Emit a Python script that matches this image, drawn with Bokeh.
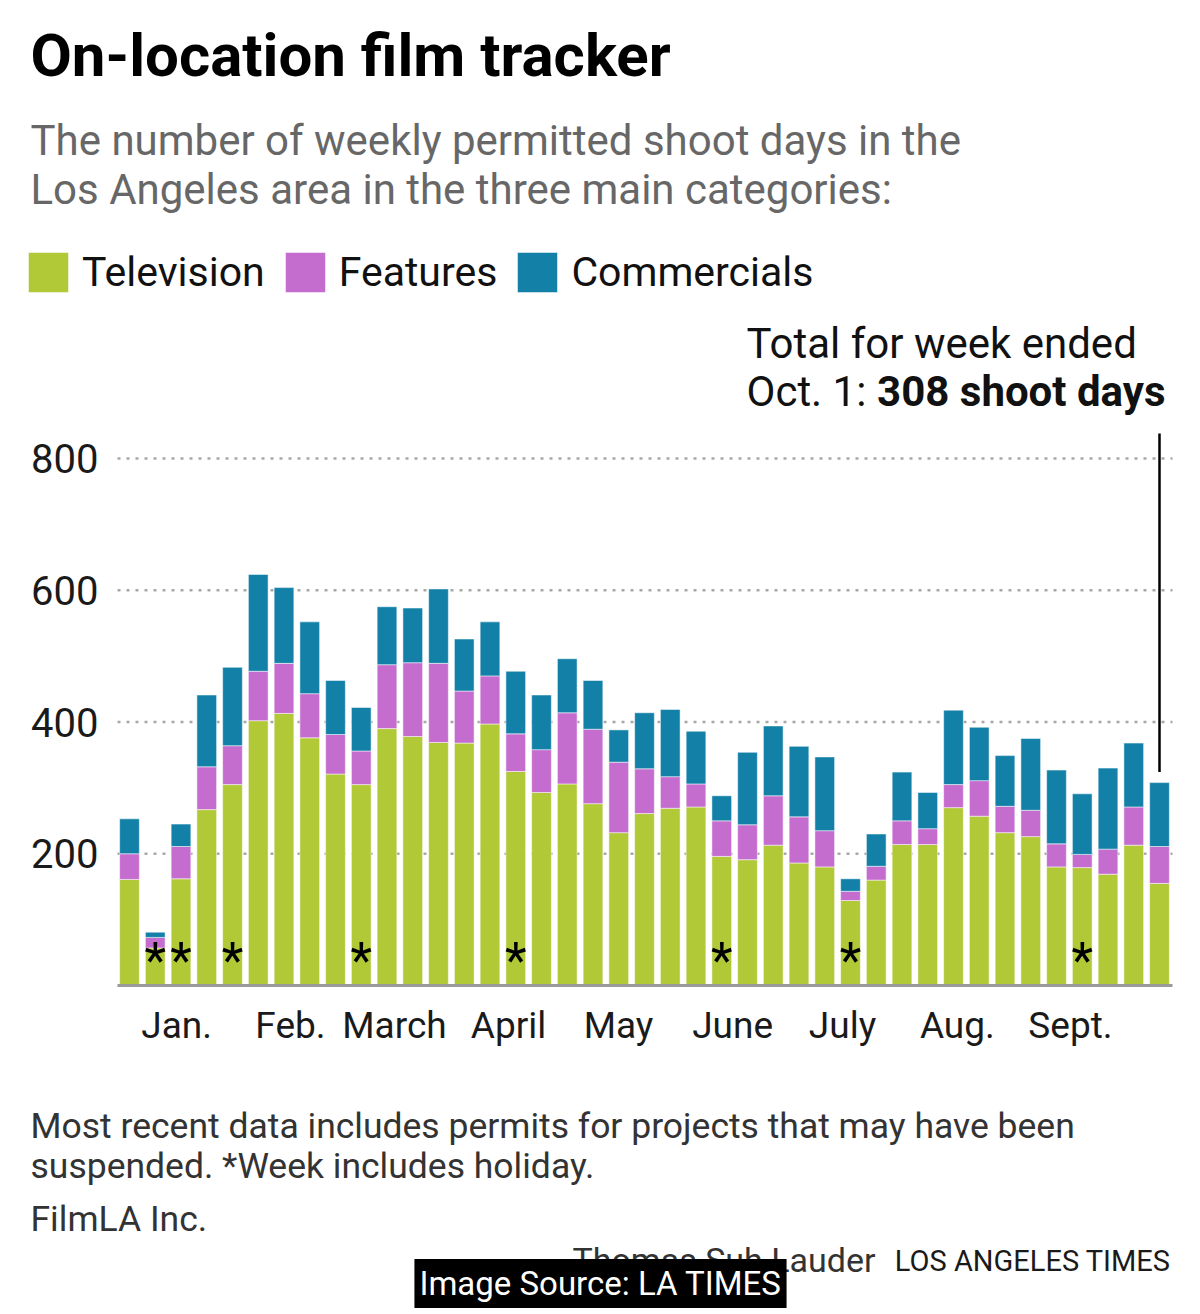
from bokeh.plotting import figure
from bokeh.models import ColumnDataSource, Label, Range1d
from bokeh.embed import file_html
from bokeh.resources import INLINE
from bokeh.core.properties import value

# ---------------- data ----------------
weeks = list(range(41))
television = [161, 57, 162, 267, 305, 402, 413, 376, 321, 305, 390, 378, 369, 368,
              397, 325, 293, 306, 276, 232, 261, 269, 271, 196, 191, 213, 186, 180,
              129, 160, 214, 214, 270, 257, 232, 226, 180, 179, 169, 213, 155]
features = [39, 16, 49, 65, 59, 75, 76, 67, 60, 51, 97, 112, 120, 79,
            73, 57, 65, 108, 113, 107, 68, 48, 35, 54, 53, 75, 70, 55,
            14, 21, 36, 24, 35, 54, 40, 40, 35, 20, 38, 58, 56]
commercials = [53, 8, 34, 109, 119, 147, 115, 109, 82, 66, 88, 83, 113, 79,
               82, 95, 83, 82, 74, 49, 85, 102, 80, 38, 110, 106, 107, 112,
               19, 49, 74, 55, 113, 81, 77, 109, 112, 92, 123, 97, 97]
holiday_weeks = [1, 2, 4, 9, 15, 23, 28, 37]
month_ticks = [1.83, 6.25, 10.29, 14.72, 18.99, 23.42, 27.69, 32.15, 36.54]
month_labels = ["Jan.", "Feb.", "March", "April", "May", "June", "July", "Aug.", "Sept."]
y_ticks = [200, 400, 600, 800]
y_tick_labels = ["200", "400", "600", "800"]
series = ["Television", "Features", "Commercials"]
colors = ["#b1c837", "#c56ccf", "#1380a8"]

totals = [t + f + c for t, f, c in zip(television, features, commercials)]
last_total = totals[-1]

# ---------------- layout helpers (canvas pixels -> data) ----------------
W, H = 1200, 1314
PX_PER_X = 25.75      # pixels per week
X0_PX = 129.0         # centre of first bar
PX_PER_Y = 0.65875    # pixels per shoot day
Y0_PX = 985.0         # baseline

def dx(px):
    return (px - X0_PX) / PX_PER_X

def dy(py):
    return (Y0_PX - py) / PX_PER_Y

FONT = "Roboto"

p = figure(width=W, height=H, output_backend="svg", toolbar_location=None,
           x_range=Range1d(dx(0), dx(W)), y_range=Range1d(dy(H), dy(0)),
           x_axis_location=None, y_axis_location=None,
           min_border=0)
p.outline_line_color = None
p.background_fill_color = "white"
p.border_fill_color = "white"
p.grid.visible = False

# dotted value grid and tick labels
grid_x0 = dx(117)
grid_x1 = dx(1172)
p.segment(x0=[grid_x0] * len(y_ticks), y0=y_ticks, x1=[grid_x1] * len(y_ticks), y1=y_ticks,
          line_color="#a8a8a8", line_width=2.5, line_dash="3 6")
p.text(x=[dx(98)] * len(y_ticks), y=y_ticks, text=y_tick_labels, text_align="right",
       text_baseline="middle", text_font=value(FONT), text_font_size="40px",
       text_color="#1a1a1a")

src = ColumnDataSource(dict(week=weeks, Television=television, Features=features,
                            Commercials=commercials))
p.vbar_stack(series, x="week", width=0.765, color=colors, source=src,
             line_color="white", line_width=1, line_alpha=0.5,
             legend_label=series)

# baseline
p.segment(x0=[grid_x0], y0=[0], x1=[grid_x1], y1=[0], line_color="#9a9a9a", line_width=3)

# month labels
p.text(x=month_ticks, y=[dy(1025)] * len(month_ticks), text=month_labels,
       text_align="center", text_baseline="middle", text_font=value(FONT),
       text_font_size="37px", text_color="#1a1a1a")

# holiday markers
p.text(x=holiday_weeks, y=[dy(960)] * len(holiday_weeks), text=["*"] * len(holiday_weeks),
       text_align="center", text_baseline="alphabetic", text_font=value(FONT),
       text_font_size="50px", text_color="black")

# pointer line for latest week
p.segment(x0=[weeks[-1]], y0=[last_total + 16], x1=[weeks[-1]], y1=[dy(433)],
          line_color="black", line_width=2.5)

# legend
leg = p.legend[0]
leg.orientation = "horizontal"
leg.location = (23, H - 297)
leg.glyph_width = 50
leg.glyph_height = 50
leg.label_height = 50
leg.label_standoff = 9
leg.spacing = 15
leg.padding = 0
leg.margin = 0
leg.border_line_color = None
leg.background_fill_alpha = 0
leg.label_text_font = FONT
leg.label_text_font_size = "41px"
leg.label_text_color = "#111111"

def add_label(px, py, text, size, color="#1a1a1a", style="normal", align="left"):
    p.add_layout(Label(x=dx(px), y=dy(py), text=text, text_font=FONT,
                       text_font_size=size, text_color=color, text_font_style=style,
                       text_align=align, text_baseline="middle"))

# titles
add_label(30, 55, "On-location film tracker", "60px", "black", "bold")
add_label(30, 140, "The number of weekly permitted shoot days in the", "42px", "#676767")
add_label(30, 189, "Los Angeles area in the three main categories:", "42px", "#676767")

# annotation
add_label(746, 343, "Total for week ended", "42px", "#111111")
add_label(746, 391, "Oct. 1:", "42px", "#111111")
add_label(1165, 391, f"{last_total} shoot days", "42px", "#111111", "bold", "right")

# footer
add_label(30, 1125, "Most recent data includes permits for projects that may have been",
          "35.5px", "#333333")
add_label(30, 1165, "suspended. *Week includes holiday.", "35.5px", "#333333")
add_label(30, 1218, "FilmLA Inc.", "35.5px", "#333333")
add_label(875, 1259, "Thomas Suh Lauder", "34px", "#333333", align="right")
add_label(1170, 1260, "LOS ANGELES TIMES", "29px", "#1a1a1a", align="right")

p.add_layout(Label(x=dx(600), y=dy(1283), text="Image Source: LA TIMES", text_font=FONT,
                   text_font_size="33px", text_color="white", text_align="center",
                   text_baseline="middle", background_fill_color="black", padding=5))

open("out.html", "w").write(file_html(p, INLINE))
